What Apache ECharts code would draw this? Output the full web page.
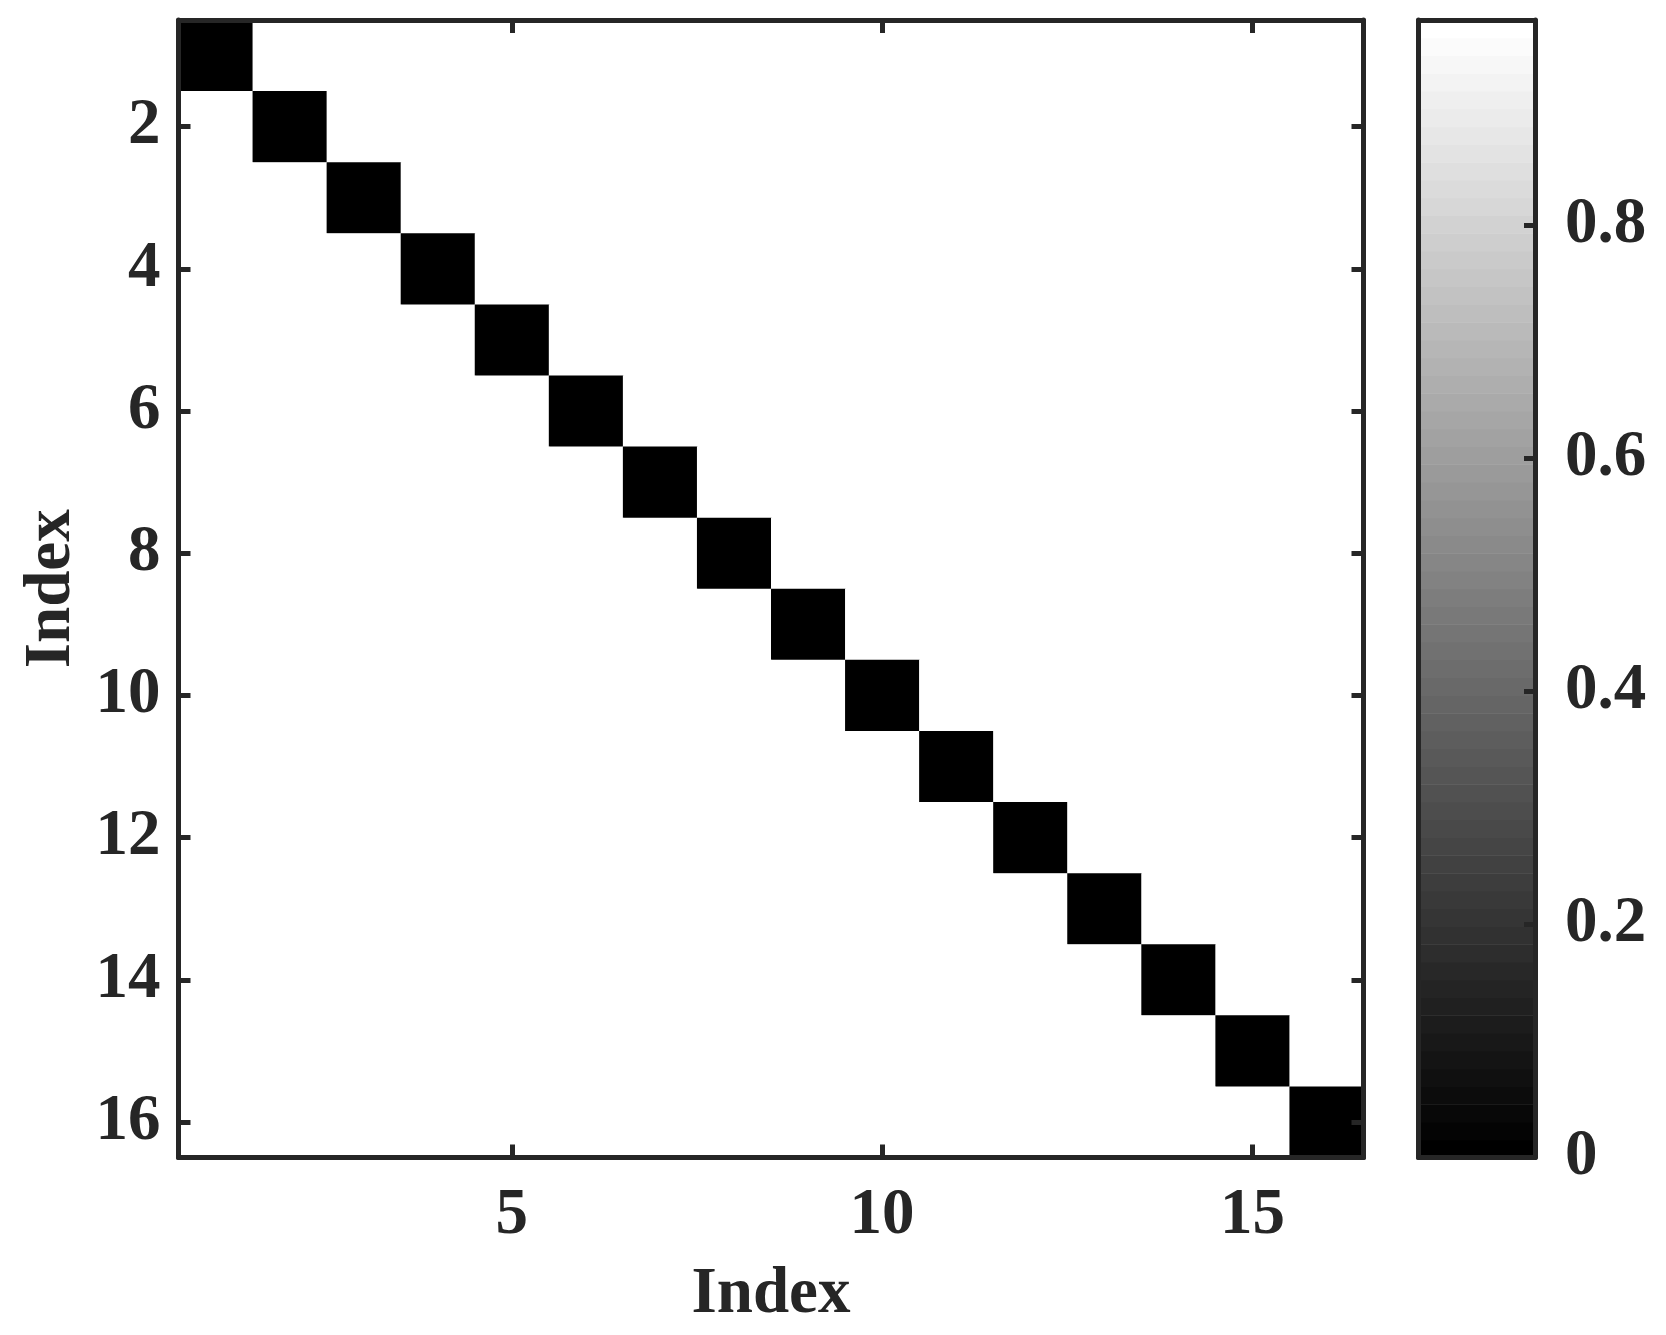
<!DOCTYPE html>
<html>
<head>
<meta charset="utf-8">
<script src="https://cdn.jsdelivr.net/npm/echarts@6/dist/echarts.min.js"></script>
<style>
  html, body { margin: 0; padding: 0; background: #fff; }
  #chart { width: 1666px; height: 1335px; }
</style>
</head>
<body>
<div id="chart"></div>
<script>
// index range and tick positions
const indexMin = 1
const indexMax = 16
const xTicks = [5, 10, 15]
const yTicks = [2, 4, 6, 8, 10, 12, 14, 16]

// matrix values, row = y index, column = x index
const matrix = [
  [0,1,1,1,1,1,1,1,1,1,1,1,1,1,1,1],
  [1,0,1,1,1,1,1,1,1,1,1,1,1,1,1,1],
  [1,1,0,1,1,1,1,1,1,1,1,1,1,1,1,1],
  [1,1,1,0,1,1,1,1,1,1,1,1,1,1,1,1],
  [1,1,1,1,0,1,1,1,1,1,1,1,1,1,1,1],
  [1,1,1,1,1,0,1,1,1,1,1,1,1,1,1,1],
  [1,1,1,1,1,1,0,1,1,1,1,1,1,1,1,1],
  [1,1,1,1,1,1,1,0,1,1,1,1,1,1,1,1],
  [1,1,1,1,1,1,1,1,0,1,1,1,1,1,1,1],
  [1,1,1,1,1,1,1,1,1,0,1,1,1,1,1,1],
  [1,1,1,1,1,1,1,1,1,1,0,1,1,1,1,1],
  [1,1,1,1,1,1,1,1,1,1,1,0,1,1,1,1],
  [1,1,1,1,1,1,1,1,1,1,1,1,0,1,1,1],
  [1,1,1,1,1,1,1,1,1,1,1,1,1,0,1,1],
  [1,1,1,1,1,1,1,1,1,1,1,1,1,1,0,1],
  [1,1,1,1,1,1,1,1,1,1,1,1,1,1,1,0]
]

// colour limits of the colorbar
const colorMin = 0
const colorMax = 0.976
const cmapLevels = 64

const AXIS = '#262626'
const FONT = '"Liberation Serif", "Times New Roman", serif'

const cellData = []
matrix.forEach((row, yi) => {
  row.forEach((v, xi) => cellData.push([xi + 1, yi + 1, v]))
})

// colorbar bands (gray colormap)
const bands = []
for (let k = 0; k < cmapLevels; k++) {
  bands.push([k * colorMax / cmapLevels, (k + 1) * colorMax / cmapLevels, k / (cmapLevels - 1)])
}

const chart = echarts.init(document.getElementById('chart'), null, { renderer: 'canvas' })

const labelStyle = { color: AXIS, fontFamily: FONT, fontWeight: 'bold', fontSize: 65 }
const lineStyle = { color: AXIS, width: 5 }
const lo = indexMin - 0.5
const hi = indexMax + 0.5

const frameAxis = (extra) => Object.assign({
  gridIndex: 0, type: 'value', min: lo, max: hi, zlevel: 1, z: 10,
  axisLine: { onZero: false, lineStyle },
  splitLine: { show: false }
}, extra)

const option = {
  backgroundColor: '#ffffff',
  animation: false,
  grid: [
    { left: 178.5, top: 20, width: 1185, height: 1137.5, containLabel: false, outerBoundsMode: 'none' },
    { left: 1418.5, top: 20, width: 116.5, height: 1137.5, containLabel: false, outerBoundsMode: 'none' }
  ],
  xAxis: [
    frameAxis({
      position: 'bottom',
      name: 'Index', nameLocation: 'middle', nameGap: 105,
      nameTextStyle: labelStyle,
      axisTick: { inside: true, length: 13, customValues: xTicks, lineStyle },
      axisLabel: Object.assign({ customValues: xTicks, margin: 26 }, labelStyle)
    }),
    frameAxis({
      position: 'top',
      axisTick: { inside: true, length: 13, customValues: xTicks, lineStyle },
      axisLabel: { show: false }
    }),
    {
      gridIndex: 1, type: 'value', min: 0, max: 1, position: 'bottom', zlevel: 1, z: 10,
      axisLine: { onZero: false, lineStyle },
      axisTick: { show: false }, axisLabel: { show: false }, splitLine: { show: false }
    },
    {
      gridIndex: 1, type: 'value', min: 0, max: 1, position: 'top', zlevel: 1, z: 10,
      axisLine: { onZero: false, lineStyle },
      axisTick: { show: false }, axisLabel: { show: false }, splitLine: { show: false }
    }
  ],
  yAxis: [
    frameAxis({
      position: 'left', inverse: true,
      name: 'Index', nameLocation: 'middle', nameGap: 92, nameRotate: 90,
      nameTextStyle: labelStyle,
      axisTick: { inside: true, length: 12, customValues: yTicks, lineStyle },
      axisLabel: Object.assign({ customValues: yTicks, margin: 18 }, labelStyle)
    }),
    frameAxis({
      position: 'right', inverse: true,
      axisTick: { inside: true, length: 12, customValues: yTicks, lineStyle },
      axisLabel: { show: false }
    }),
    {
      gridIndex: 1, type: 'value', min: colorMin, max: colorMax, interval: 0.2, position: 'right', zlevel: 1, z: 10,
      axisLine: { onZero: false, lineStyle },
      axisTick: { inside: true, length: 11, lineStyle },
      axisLabel: Object.assign({ margin: 30, showMaxLabel: false, formatter: v => String(Math.round(v * 10) / 10) }, labelStyle),
      splitLine: { show: false }
    },
    {
      gridIndex: 1, type: 'value', min: colorMin, max: colorMax, position: 'left', zlevel: 1, z: 10,
      axisLine: { onZero: false, lineStyle },
      axisTick: { show: false }, axisLabel: { show: false }, splitLine: { show: false }
    }
  ],
  visualMap: {
    show: false,
    type: 'continuous',
    seriesIndex: 0,
    dimension: 2,
    min: colorMin,
    max: colorMax,
    inRange: { color: ['#000000', '#ffffff'] }
  },
  series: [
    {
      type: 'custom',
      xAxisIndex: 0,
      yAxisIndex: 0,
      z: 1,
      data: cellData,
      encode: { x: 0, y: 1 },
      renderItem: (params, api) => {
        const a = api.coord([api.value(0) - 0.5, api.value(1) - 0.5])
        const b = api.coord([api.value(0) + 0.5, api.value(1) + 0.5])
        return {
          type: 'rect',
          shape: {
            x: Math.min(a[0], b[0]), y: Math.min(a[1], b[1]),
            width: Math.abs(b[0] - a[0]) + 0.5, height: Math.abs(b[1] - a[1]) + 0.5
          },
          style: { fill: api.visual('color') }
        }
      }
    },
    {
      type: 'custom',
      xAxisIndex: 2,
      yAxisIndex: 2,
      z: 1,
      data: bands,
      renderItem: (params, api) => {
        const p0 = api.coord([0, api.value(0)])
        const p1 = api.coord([1, api.value(1)])
        const g = Math.round(api.value(2) * 255)
        return {
          type: 'rect',
          shape: { x: p0[0], y: p1[1], width: p1[0] - p0[0], height: p0[1] - p1[1] + 0.5 },
          style: { fill: `rgb(${g},${g},${g})` }
        }
      }
    }
  ]
}

chart.setOption(option)
</script>
</body>
</html>
